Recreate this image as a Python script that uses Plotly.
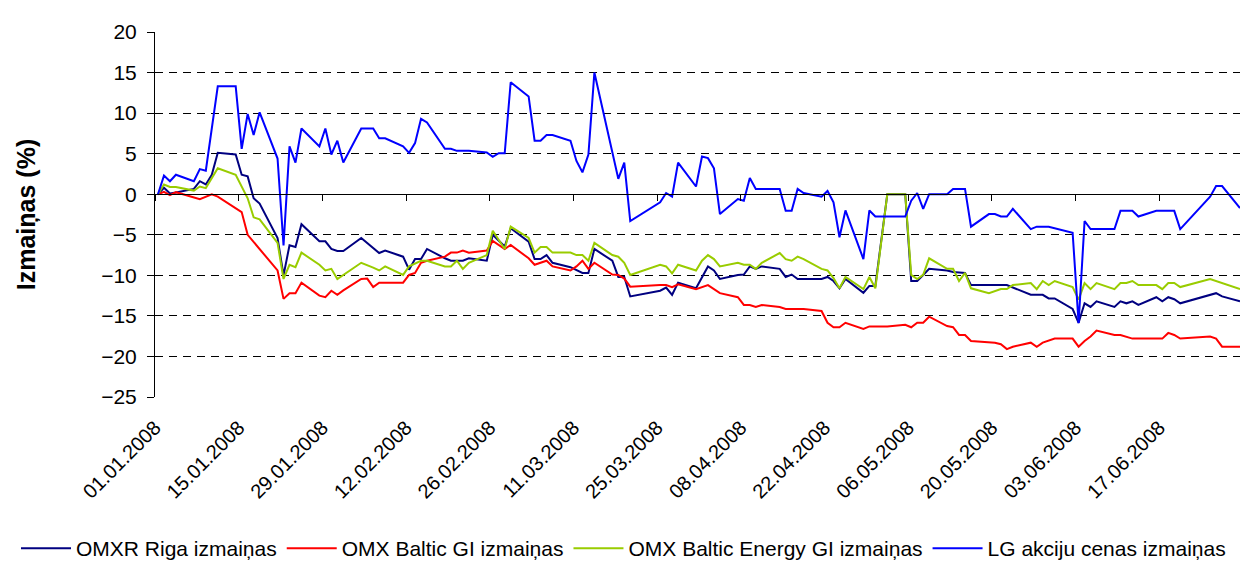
import pandas as pd
import plotly.graph_objects as go

# ---------------- data ----------------
tick_labels = ["01.01.2008", "15.01.2008", "29.01.2008", "12.02.2008", "26.02.2008",
               "11.03.2008", "25.03.2008", "08.04.2008", "22.04.2008", "06.05.2008",
               "20.05.2008", "03.06.2008", "17.06.2008"]

series_names = ["OMXR Riga izmaiņas", "OMX Baltic GI izmaiņas",
                "OMX Baltic Energy GI izmaiņas", "LG akciju cenas izmaiņas"]
series_colors = ["#000080", "#FF0000", "#99CC00", "#0000FF"]

riga_dates = ["01-01", "01-02", "01-03", "01-04", "01-07", "01-08", "01-09", "01-10", "01-11", "01-14",
              "01-15", "01-16", "01-17", "01-18", "01-21", "01-22", "01-23", "01-24", "01-25", "01-28",
              "01-29", "01-30", "01-31", "02-01", "02-04", "02-07", "02-08", "02-11", "02-12", "02-13",
              "02-14", "02-15", "02-18", "02-19", "02-21", "02-22", "02-25", "02-26", "02-28", "02-29",
              "03-03", "03-04", "03-05", "03-06", "03-07", "03-10", "03-12", "03-13", "03-14", "03-17",
              "03-18", "03-19", "03-20", "03-25", "03-26", "03-27", "03-28", "03-31", "04-02", "04-03",
              "04-04", "04-07", "04-08", "04-09", "04-10", "04-11", "04-14", "04-15", "04-16", "04-17",
              "04-21", "04-22", "04-23", "04-24", "04-25", "04-28", "04-29", "04-30", "05-02", "05-05",
              "05-06", "05-07", "05-08", "05-09", "05-12", "05-13", "05-15", "05-16", "05-22", "05-23",
              "05-26", "05-28", "05-29", "05-30", "06-02", "06-03", "06-04", "06-05", "06-06", "06-09",
              "06-10", "06-11", "06-12", "06-13", "06-16", "06-17", "06-18", "06-19", "06-20", "06-26",
              "06-27", "06-30"]
riga_values = [0, 0.8, 0.1, 0.2, 0.65, 1.6, 1.2, 2.4, 5.1, 4.9,
               2.4, 2.2, -0.5, -1.15, -5.4, -10.0, -6.3, -6.5, -3.7, -5.8,
               -5.8, -6.75, -7.0, -7.0, -5.4, -7.25, -6.95, -7.7, -9.3, -8.0,
               -8.0, -6.75, -7.9, -8.2, -8.2, -7.9, -8.2, -5.0, -6.45, -4.2,
               -5.85, -8.0, -8.0, -7.5, -8.45, -9.0, -9.7, -9.7, -6.75, -8.2,
               -10.2, -10.2, -12.6, -11.9, -11.5, -12.4, -10.9, -11.6, -8.9, -9.4,
               -10.45, -9.95, -9.9, -8.9, -9.2, -8.9, -9.2, -10.2, -9.9, -10.45,
               -10.45, -10.2, -10.7, -11.6, -10.45, -12.15, -11.3, -11.3, 0, 0,
               -10.7, -10.7, -9.95, -9.2, -9.4, -9.6, -9.7, -11.2, -11.2, -11.5,
               -12.4, -12.4, -12.85, -12.85, -14.15, -15.85, -13.45, -13.9, -13.2, -13.9,
               -13.2, -13.45, -13.2, -13.65, -12.7, -13.2, -12.7, -12.95, -13.45, -12.2,
               -12.6, -13.2]

baltic_dates = ["01-01", "01-02", "01-03", "01-04", "01-08", "01-10", "01-11", "01-14", "01-15", "01-16",
                "01-21", "01-22", "01-23", "01-24", "01-25", "01-28", "01-29", "01-30", "01-31", "02-01",
                "02-04", "02-05", "02-06", "02-07", "02-11", "02-12", "02-13", "02-14", "02-15", "02-18",
                "02-19", "02-20", "02-21", "02-22", "02-25", "02-26", "02-28", "02-29", "03-03", "03-04",
                "03-06", "03-07", "03-10", "03-11", "03-12", "03-13", "03-14", "03-17", "03-18", "03-19",
                "03-20", "03-25", "03-26", "03-27", "03-28", "03-31", "04-02", "04-04", "04-07", "04-08",
                "04-09", "04-10", "04-11", "04-14", "04-15", "04-18", "04-21", "04-22", "04-23", "04-24",
                "04-25", "04-28", "04-29", "05-02", "05-05", "05-06", "05-07", "05-08", "05-09", "05-12",
                "05-13", "05-14", "05-15", "05-16", "05-19", "05-20", "05-21", "05-22", "05-23", "05-26",
                "05-27", "05-28", "05-30", "06-02", "06-03", "06-04", "06-05", "06-06", "06-09", "06-10",
                "06-12", "06-17", "06-18", "06-19", "06-20", "06-25", "06-26", "06-27", "06-30"]
baltic_values = [0, 0.3, -0.1, 0.25, -0.6, 0, -0.3, -1.65, -2.2, -5.0,
                 -9.4, -12.9, -12.2, -12.2, -10.9, -12.5, -12.7, -11.9, -12.4, -11.85,
                 -10.45, -10.4, -11.45, -10.9, -10.9, -9.95, -9.7, -8.45, -8.2, -7.7,
                 -7.2, -7.2, -6.95, -7.2, -6.95, -5.75, -6.75, -6.25, -7.9, -8.7,
                 -8.2, -8.9, -9.4, -8.9, -8.2, -9.2, -8.45, -9.9, -9.95, -10.4,
                 -11.4, -11.2, -11.2, -11.45, -11.1, -11.7, -11.2, -12.2, -12.7, -13.65,
                 -13.65, -13.9, -13.65, -13.9, -14.15, -14.15, -14.4, -15.85, -16.4, -16.4,
                 -15.85, -16.6, -16.3, -16.3, -16.1, -16.4, -15.85, -15.85, -15.1, -16.25,
                 -16.4, -17.35, -17.35, -18.1, -18.3, -18.3, -18.5, -19.1, -18.8, -18.3,
                 -18.8, -18.3, -17.8, -17.8, -18.8, -18.1, -17.55, -16.8, -17.35, -17.35,
                 -17.8, -17.8, -17.1, -17.35, -17.8, -17.55, -17.8, -18.8, -18.8]

energy_dates = ["01-01", "01-02", "01-03", "01-04", "01-07", "01-08", "01-09", "01-11", "01-14", "01-16",
                "01-17", "01-18", "01-21", "01-22", "01-23", "01-24", "01-25", "01-28", "01-29", "01-30",
                "01-31", "02-04", "02-06", "02-07", "02-08", "02-11", "02-12", "02-13", "02-14", "02-15",
                "02-18", "02-19", "02-20", "02-21", "02-22", "02-25", "02-26", "02-28", "02-29", "03-03",
                "03-04", "03-05", "03-06", "03-07", "03-10", "03-11", "03-12", "03-13", "03-14", "03-17",
                "03-18", "03-19", "03-20", "03-25", "03-26", "03-27", "03-28", "03-31", "04-01", "04-02",
                "04-03", "04-04", "04-07", "04-08", "04-09", "04-10", "04-11", "04-14", "04-15", "04-16",
                "04-17", "04-18", "04-21", "04-22", "04-23", "04-24", "04-25", "04-28", "04-29", "04-30",
                "05-02", "05-05", "05-06", "05-07", "05-08", "05-09", "05-12", "05-13", "05-14", "05-15",
                "05-16", "05-19", "05-21", "05-22", "05-23", "05-26", "05-27", "05-28", "05-29", "05-30",
                "06-02", "06-03", "06-04", "06-05", "06-06", "06-09", "06-10", "06-11", "06-12", "06-13",
                "06-16", "06-17", "06-18", "06-19", "06-20", "06-25", "06-30"]
energy_values = [0, 1.2, 0.9, 0.9, 0.45, 0.95, 0.75, 3.2, 2.4, -0.5,
                 -2.85, -3.1, -6.0, -10.45, -8.7, -9.0, -7.2, -8.7, -9.4, -9.2,
                 -10.45, -8.45, -9.05, -9.4, -8.9, -9.95, -8.9, -8.5, -8.2, -8.2,
                 -8.9, -8.9, -8.2, -9.2, -8.45, -7.5, -4.5, -6.75, -4.0, -5.4,
                 -7.2, -6.5, -6.5, -7.2, -7.2, -7.5, -7.5, -8.2, -6.0, -7.5,
                 -7.7, -8.45, -9.95, -8.7, -8.9, -9.75, -8.7, -9.4, -8.2, -7.5,
                 -8.0, -8.9, -8.45, -8.7, -8.7, -9.2, -8.45, -7.25, -8.0, -8.2,
                 -7.7, -8.0, -9.2, -9.4, -10.35, -11.6, -10.2, -11.7, -10.2, -11.6,
                 0, 0, -9.95, -10.45, -9.95, -7.9, -9.2, -9.2, -10.7, -9.7,
                 -11.6, -12.2, -11.7, -11.7, -11.2, -10.95, -11.7, -10.7, -11.2, -10.7,
                 -11.45, -13.0, -10.95, -11.7, -10.95, -11.7, -10.95, -10.95, -10.7, -11.2,
                 -11.2, -11.7, -10.95, -10.95, -11.45, -10.45, -11.7]

lg_dates = ["01-01", "01-02", "01-03", "01-04", "01-07", "01-08", "01-09", "01-11", "01-14", "01-15",
            "01-16", "01-17", "01-18", "01-21", "01-22", "01-23", "01-24", "01-25", "01-28", "01-29",
            "01-30", "01-31", "02-01", "02-04", "02-06", "02-07", "02-08", "02-11", "02-12", "02-13",
            "02-14", "02-15", "02-18", "02-19", "02-20", "02-22", "02-25", "02-26", "02-27", "02-28",
            "02-29", "03-03", "03-04", "03-05", "03-06", "03-07", "03-10", "03-11", "03-12", "03-13",
            "03-14", "03-18", "03-19", "03-20", "03-25", "03-26", "03-27", "03-28", "03-31", "04-01",
            "04-02", "04-03", "04-04", "04-07", "04-08", "04-09", "04-10", "04-14", "04-15", "04-16",
            "04-17", "04-18", "04-21", "04-22", "04-23", "04-24", "04-25", "04-28", "04-29", "04-30",
            "05-05", "05-06", "05-07", "05-08", "05-09", "05-12", "05-13", "05-15", "05-16", "05-19",
            "05-20", "05-21", "05-22", "05-23", "05-26", "05-27", "05-29", "06-02", "06-03", "06-04",
            "06-05", "06-09", "06-10", "06-12", "06-13", "06-16", "06-19", "06-20", "06-25", "06-26",
            "06-27", "06-30"]
lg_values = [0, 2.3, 1.6, 2.4, 1.6, 3.1, 2.9, 13.3, 13.3, 5.6,
             9.9, 7.3, 10.1, 4.4, -6.3, 5.9, 3.9, 8.1, 5.9, 8.1,
             4.9, 6.6, 3.9, 8.1, 8.1, 6.9, 6.9, 5.9, 5.1, 6.3,
             9.3, 8.85, 5.6, 5.6, 5.35, 5.35, 5.15, 4.6, 5.05, 5.05,
             13.8, 12.05, 6.6, 6.6, 7.3, 7.3, 6.6, 4.1, 2.7, 4.9,
             15.0, 1.9, 3.9, -3.3, -1.0, 0.15, -0.3, 3.9, 0.95, 4.65,
             4.45, 3.2, -2.45, -0.6, -0.8, 2.0, 0.65, 0.65, -2.05, -2.05,
             0.65, 0.15, -0.3, 0.4, -1.0, -5.3, -2.0, -8.0, -2.0, -2.75,
             -2.75, -0.8, 0.15, -1.8, 0, 0, 0.65, 0.65, -4.0, -2.45,
             -2.45, -2.75, -2.75, -1.8, -4.3, -4.0, -4.0, -4.75, -15.9, -3.3,
             -4.3, -4.3, -2.05, -2.05, -2.75, -2.05, -2.05, -4.3, -0.3, 1.0,
             1.0, -1.7]

all_dates = [riga_dates, baltic_dates, energy_dates, lg_dates]
all_values = [riga_values, baltic_values, energy_values, lg_values]

# ---------------- figure ----------------
FONT = "Liberation Sans, Arial, sans-serif"
W, H = 1248, 564
M_L, M_R, M_T, M_B = 147, 13, 24, 175
PLOT_W = W - M_L - M_R
PLOT_H = H - M_T - M_B

def to_x(md):
    # each daily observation is placed in the middle of its day, as in the original chart
    return pd.to_datetime(["2008-" + d for d in md]) + pd.Timedelta(hours=12)

fig = go.Figure()
for name, color, ds, vs in zip(series_names, series_colors, all_dates, all_values):
    fig.add_trace(go.Scatter(x=to_x(ds), y=vs, mode="lines", name=name,
                             line=dict(color=color, width=2)))

# invisible helper trace for the axis that runs along y = 0
fig.add_trace(go.Scatter(x=[], y=[], xaxis="x2", yaxis="y", showlegend=False,
                         hoverinfo="skip"))

tick_dates = pd.to_datetime(tick_labels, format="%d.%m.%Y")
x_range = ["2008-01-01", "2008-07-01"]
y_range = [-25, 20]

fig.update_layout(
    width=W, height=H,
    paper_bgcolor="white", plot_bgcolor="white",
    font=dict(family=FONT, size=20, color="black"),
    margin=dict(l=M_L, r=M_R, t=M_T, b=M_B, autoexpand=False),
    showlegend=True,
    legend=dict(orientation="h", xref="paper", x=-(M_L - 8) / PLOT_W, xanchor="left",
                yref="paper", y=-(H - 3 - (H - M_B)) / PLOT_H, yanchor="bottom",
                font=dict(size=21, family=FONT), itemwidth=50,
                bgcolor="rgba(0,0,0,0)"),
    xaxis=dict(range=x_range, type="date", tickvals=tick_dates, ticktext=tick_labels,
               tickangle=-45, tickfont=dict(size=20), showgrid=False, showline=False,
               zeroline=False, ticks="", automargin=False, ticklabelstandoff=14),
    xaxis2=dict(range=x_range, type="date", overlaying="x", matches="x", anchor="free",
                position=(0 - y_range[0]) / (y_range[1] - y_range[0]),
                showline=True, linecolor="black", linewidth=1,
                ticks="outside", ticklen=6, tickcolor="black", tick0="2008-01-01",
                dtick=14 * 86400000, showticklabels=False, showgrid=False,
                zeroline=False),
    yaxis=dict(range=y_range, dtick=5, tick0=0, showline=True, linecolor="black",
               linewidth=1, ticks="outside", ticklen=7, tickcolor="black",
               tickfont=dict(size=21), ticklabelstandoff=6,
               showgrid=True, gridcolor="black", gridwidth=1,
               griddash="8px,6px", zeroline=False, automargin=False,
               title=dict(text="<b>Izmaiņas (%)</b>", font=dict(size=25), standoff=58)),
)

fig.write_html("out.html")
